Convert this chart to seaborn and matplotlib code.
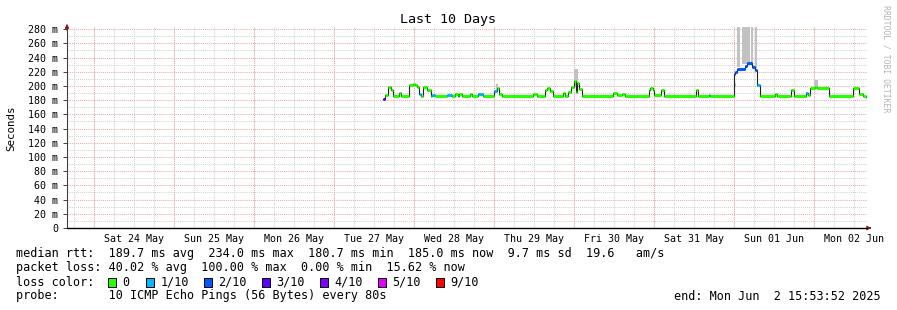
import numpy as np
import pandas as pd
import matplotlib
matplotlib.use("Agg")
import matplotlib.pyplot as plt
import matplotlib.dates as mdates
from matplotlib.patches import Rectangle
import seaborn as sns

W, H = 897, 310
MONO = "DejaVu Sans Mono"

# ---------------- data ----------------
t_start = "2025-05-23 15:53:52"
t_end = "2025-06-02 15:53:52"

step_times = [
    "05-27 14:42", "05-27 15:18", "05-27 16:12", "05-27 17:06", "05-27 17:42",
    "05-27 19:30", "05-27 20:06", "05-27 22:30", "05-27 23:42", "05-28 00:18",
    "05-28 00:54", "05-28 01:30", "05-28 02:06", "05-28 02:42", "05-28 03:54",
    "05-28 05:06", "05-28 05:24", "05-28 06:18", "05-28 09:54", "05-28 11:24",
    "05-28 12:18", "05-28 13:12", "05-28 13:30", "05-28 14:24", "05-28 16:48",
    "05-28 17:24", "05-28 19:12", "05-28 20:42", "05-29 00:00", "05-29 00:54",
    "05-29 01:30", "05-29 02:24", "05-29 11:42", "05-29 12:54", "05-29 15:18",
    "05-29 15:54", "05-29 16:48", "05-29 17:42", "05-29 20:42", "05-29 21:18",
    "05-29 22:12", "05-29 23:06", "05-30 00:00", "05-30 00:36", "05-30 00:54",
    "05-30 01:30", "05-30 02:24", "05-30 11:42", "05-30 12:54", "05-30 14:24",
    "05-30 15:18", "05-30 22:30", "05-30 22:48", "05-30 23:42", "05-31 00:00",
    "05-31 02:06", "05-31 03:00", "05-31 12:36", "05-31 13:12", "05-31 16:30",
    "05-31 16:48", "06-01 00:00", "06-01 00:18", "06-01 00:54", "06-01 03:18",
    "06-01 03:54", "06-01 05:24", "06-01 06:18", "06-01 06:54", "06-01 07:48",
    "06-01 12:18", "06-01 12:54", "06-01 17:06", "06-01 18:00", "06-01 21:36",
    "06-01 22:12", "06-01 22:48", "06-02 00:18", "06-02 00:54", "06-02 04:30",
    "06-02 11:42", "06-02 13:30", "06-02 14:42", "06-02 15:36",
]
median_ms = [
    181.5, 187, 198, 194, 185.5,
    190, 186, 201, 203, 201,
    198, 188, 186, 199, 195,
    186, 187, 186, 187.5, 186,
    189, 186, 188, 186, 188,
    186, 189, 186, 193, 197,
    189, 186, 188.5, 186, 195,
    197, 193, 186.5, 190, 186.5,
    191, 199, 207, 192, 204,
    196, 186, 190, 187, 189,
    186.5, 194, 197, 194, 187,
    194, 186, 195, 186, 187,
    186, 217, 219, 224, 228,
    233, 227, 223, 201, 186,
    188, 186, 195, 186, 190,
    187, 197, 199, 197, 186,
    197, 189, 186, 185,
]
loss_count = [
    3, 0, 0, 0, 0,
    0, 0, 0, 0, 0,
    0, 1, 0, 0, 0,
    0, 1, 0, 1, 0,
    0, 0, 0, 0, 0,
    0, 1, 0, 1, 0,
    0, 0, 0, 0, 0,
    0, 0, 0, 0, 0,
    0, 0, 0, 0, 0,
    0, 0, 0, 0, 0,
    0, 0, 0, 0, 0,
    0, 0, 0, 0, 1,
    0, 2, 2, 2, 2,
    2, 2, 2, 1, 0,
    0, 0, 0, 0, 1,
    0, 0, 0, 0, 0,
    0, 0, 0, 1,
]

smoke_start = ["05-29 00:36", "05-29 23:54", "06-01 00:00", "06-01 00:54",
               "06-01 02:24", "06-01 05:06", "06-01 06:18", "06-02 00:00"]
smoke_end = ["05-29 01:12", "05-30 01:12", "06-01 00:36", "06-01 01:48",
             "06-01 04:48", "06-01 05:42", "06-01 06:54", "06-02 01:12"]
smoke_low = [193, 198, 199, 226, 231, 229, 225, 198]
smoke_high = [203, 224, 204, 300, 300, 300, 300, 208]

day_labels = ["Sat 24 May", "Sun 25 May", "Mon 26 May", "Tue 27 May", "Wed 28 May",
              "Thu 29 May", "Fri 30 May", "Sat 31 May", "Sun 01 Jun", "Mon 02 Jun"]
day_dates = ["2025-05-24", "2025-05-25", "2025-05-26", "2025-05-27", "2025-05-28",
             "2025-05-29", "2025-05-30", "2025-05-31", "2025-06-01", "2025-06-02"]
ytick_vals = list(range(0, 281, 20))
ytick_labels = ["0"] + [f"{v} m" for v in range(20, 281, 20)]

loss_colors = {0: "#26ff00", 1: "#00b8ff", 2: "#0059ff", 3: "#5e00ff",
               4: "#7e00ff", 5: "#dd00ff", 9: "#ff0000"}
legend_loss_keys = [0, 1, 2, 3, 4, 5, 9]
legend_loss_labels = ["0", "1/10", "2/10", "3/10", "4/10", "5/10", "9/10"]

stats_rtt = "median rtt:  189.7 ms avg  234.0 ms max  180.7 ms min  185.0 ms now  9.7 ms sd  19.6   am/s"
stats_loss = "packet loss: 40.02 % avg  100.00 % max  0.00 % min  15.62 % now"
probe_text = "probe:       10 ICMP Echo Pings (56 Bytes) every 80s"
end_text = "end: Mon Jun  2 15:53:52 2025"

# ---------------- build frames ----------------
def ts(s):
    return pd.Timestamp("2025-" + s)

t0 = pd.Timestamp(t_start)
t1 = pd.Timestamp(t_end)
times = [ts(s) for s in step_times]
df = pd.DataFrame({"time": times + [t1],
                   "median": median_ms + [median_ms[-1]]})
seg_start = times
seg_end = times[1:] + [t1]

# ---------------- figure ----------------
fig = plt.figure(figsize=(W / 100, H / 100), dpi=100)
fig.patch.set_facecolor("white")
ax_left, ax_right = 67, 867
ax_top, ax_bot = 27, 228
ax = fig.add_axes([ax_left / W, 1 - ax_bot / H, (ax_right - ax_left) / W, (ax_bot - ax_top) / H])
ax.set_facecolor("white")
ax.set_xlim(t0, t1)
ax.set_ylim(0, 283)

# grid
grid_kw = dict(linestyle=(0, (1, 1)), linewidth=0.75, zorder=0)
for h in pd.date_range("2025-05-23 18:00", t1, freq="6h"):
    ax.axvline(h, color="#d2d2d2", **grid_kw)
for v in range(10, 281, 20):
    ax.axhline(v, color="#d2d2d2", **grid_kw)
for d in day_dates:
    ax.axvline(pd.Timestamp(d), color="#eeaaaa", **grid_kw)
for v in ytick_vals[1:]:
    ax.axhline(v, color="#eeaaaa", **grid_kw)

# smoke
for s, e, lo, hi in zip(smoke_start, smoke_end, smoke_low, smoke_high):
    ax.fill_between([ts(s), ts(e)], [lo, lo], [hi, hi], color="#c2c2c2", lw=0, zorder=1)

# median line
sns.lineplot(data=df, x="time", y="median", drawstyle="steps-post", estimator=None,
             color="#202020", linewidth=0.8, ax=ax, zorder=2)
ax.hlines(median_ms, seg_start, seg_end, colors=[loss_colors[c] for c in loss_count],
          linewidth=2.2, zorder=3)

# axes style
for sp in ["top", "right", "bottom"]:
    ax.spines[sp].set_visible(False)
ax.spines["left"].set_color("#404040")
ax.spines["left"].set_linewidth(0.8)
ax.axhline(0, color="black", linewidth=1.0, zorder=4, clip_on=False)
ax.set_xlabel("")
ax.set_ylabel("")
ax.set_yticks(ytick_vals)
ax.set_yticklabels(ytick_labels, fontfamily=MONO, fontsize=7.2)
ax.tick_params(axis="y", length=3, width=0.7, color="#404040", pad=3.2)
ax.set_xticks([pd.Timestamp(d) + pd.Timedelta(hours=12) for d in day_dates])
ax.set_xticklabels(day_labels, fontfamily=MONO, fontsize=7.2)
ax.tick_params(axis="x", length=0, pad=4)

# arrows
ax.annotate("", xy=(0, 1.03), xytext=(0, 0.97), xycoords="axes fraction",
            arrowprops=dict(arrowstyle="-|>", color="#8b1a1a", lw=0.8,
                            mutation_scale=6), annotation_clip=False)
ax.annotate("", xy=(1.009, 0), xytext=(1.0, 0), xycoords="axes fraction",
            arrowprops=dict(arrowstyle="-|>", color="#8b1a1a", lw=0.8,
                            mutation_scale=6), annotation_clip=False)

# texts
def ft(x, y, s, **kw):
    fig.text(x / W, 1 - y / H, s, fontfamily=MONO, **kw)

ft(448, 19, "Last 10 Days", fontsize=9.6, ha="center", va="center")
ft(11, 128, "Seconds", fontsize=7.8, ha="center", va="center", rotation=90)
ft(886, 5, "RRDTOOL / TOBI OETIKER", fontsize=5.9, ha="center", va="top",
   rotation=270, color="#b4b4b4")
LFS = 8.5
ft(16, 254, stats_rtt, fontsize=LFS, ha="left", va="center")
ft(16, 268, stats_loss, fontsize=LFS, ha="left", va="center")
ft(16, 282, "loss color:", fontsize=LFS, ha="left", va="center")
ft(16, 296, probe_text, fontsize=LFS, ha="left", va="center")
ft(881, 296, end_text, fontsize=LFS, ha="right", va="center")

sq_x = [108, 146, 204, 262, 320, 378, 436]
for x, k, lab in zip(sq_x, legend_loss_keys, legend_loss_labels):
    fig.patches.append(Rectangle((x / W, 1 - 286.5 / H), 8 / W, 9 / H,
                                 transform=fig.transFigure, facecolor=loss_colors[k],
                                 edgecolor="black", linewidth=0.7))
    ft(x + 14.5, 282, lab, fontsize=LFS, ha="left", va="center")

fig.savefig("out.png", dpi=100, facecolor="white")
